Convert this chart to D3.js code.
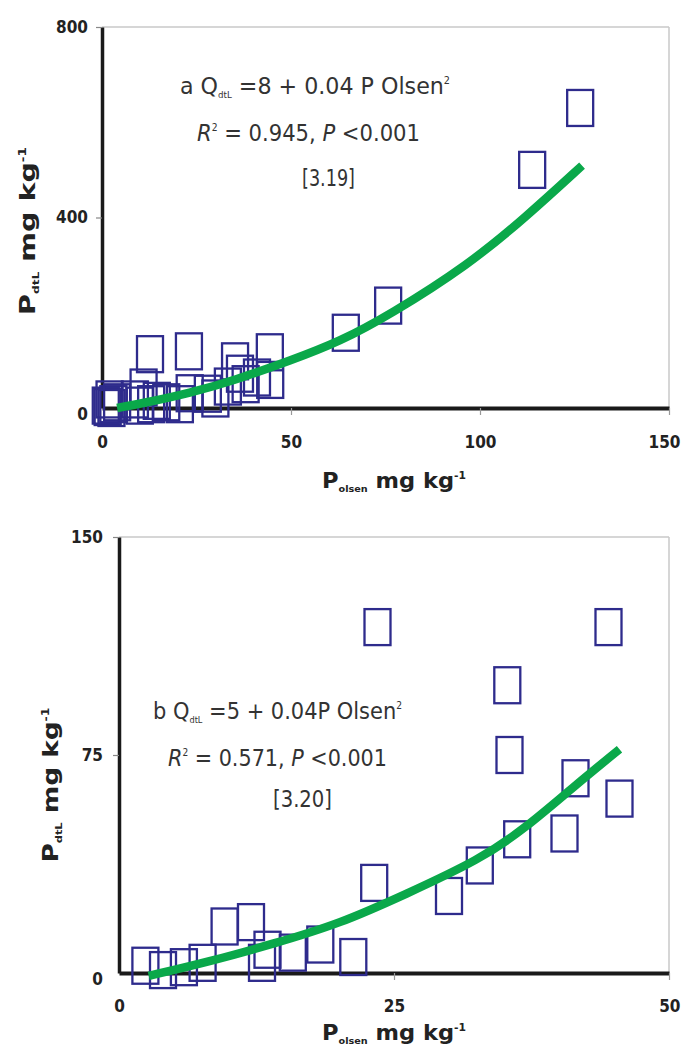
<!DOCTYPE html>
<html><head><meta charset="utf-8">
<script src="https://cdn.jsdelivr.net/npm/d3@7"></script>
<style>
html,body{margin:0;padding:0;background:#fff;}
svg{display:block;}
.tick text{font-family:"DejaVu Sans Condensed","DejaVu Sans",sans-serif;font-weight:bold;font-size:17px;fill:#222;}
.ann{font-family:"DejaVu Sans Condensed","DejaVu Sans",sans-serif;font-size:23px;fill:#333;}
.ttl{font-family:"DejaVu Sans Condensed","DejaVu Sans",sans-serif;font-weight:bold;font-size:21px;fill:#222;}
</style></head>
<body>
<svg id="chart" width="682" height="1061"></svg>
<script>
// ---- Panel a data ----
const aOlsenP = [126.5,113.8,75.7,64.5,12.7,23,35.2,44.4,44.5,36.5,41,33.3,23.2,28,11,8.7,14.5,20.6,1.5,3,2,10,13,17,30,38,1,2.5,4];
const aDtlP   = [630,500,215,158,113,119,98,117,59,72,64,45,31,30,43,18,15,8,2,8,18,5,8,12,20,50,5,0,12];
const aCurveX = [4,12,23,35,50,63,76,97,112,127];
const aCurveY = [0,12,31,58,100,140,195,301,400,509];
const aXTicks = [0,50,100,150];
const aYTicks = [0,400,800];
// ---- Panel b data ----
const bOlsenP = [23.5,44.5,35.3,35.5,41.5,45.5,40.5,36.2,32.8,30,23.2,21.3,9.6,12,13.5,13,7.6,2.4,4,5.9,15.8,18.3];
const bDtlP   = [119,119,99,75,67,60,48,46,37,26.5,31,5.5,16,17.5,8,3.5,3.5,2.5,1,2,7,9.8];
const bCurveX = [2.7,8.3,14,20.1,26,32.8,37,41.3,45.5];
const bCurveY = [-1,4,10,17,27,39,50,64,77];
const bXTicks = [0,25,50];
const bYTicks = [0,75,150];

const svg = d3.select("#chart");

function panel(cfg){
  const x = d3.scaleLinear().domain(cfg.xDom).range([cfg.x0,cfg.x1]);
  const y = d3.scaleLinear().domain(cfg.yDom).range([cfg.y0,cfg.y1]);
  const g = svg.append("g");
  // top & right frame
  g.append("line").attr("x1",cfg.x0).attr("x2",cfg.x1).attr("y1",cfg.y1).attr("y2",cfg.y1).attr("stroke","#c8c8c8").attr("stroke-width",1.5);
  g.append("line").attr("x1",cfg.x1).attr("x2",cfg.x1).attr("y1",cfg.y1).attr("y2",cfg.y0).attr("stroke","#c8c8c8").attr("stroke-width",1.5);
  // x axis
  const xa = g.append("g").attr("transform",`translate(0,${cfg.y0})`)
    .call(d3.axisBottom(x).tickValues(cfg.xTicks).tickSize(7).tickSizeOuter(0).tickPadding(cfg.xPad));
  xa.select(".domain").attr("stroke","#1a1a1a").attr("stroke-width",4);
  xa.selectAll(".tick line").attr("stroke","#999").attr("stroke-width",1.2);
  xa.selectAll(".tick").filter(d=>d===0).select("line").remove();
  const last = cfg.xTicks[cfg.xTicks.length-1];
  xa.selectAll(".tick").filter(d=>d===last).select("text")
    .attr("text-anchor","end").attr("x", 680 - cfg.x1);
  // y axis
  const ya = g.append("g").attr("transform",`translate(${cfg.x0},0)`)
    .call(d3.axisLeft(y).tickValues(cfg.yTicks).tickSize(6).tickSizeOuter(0).tickPadding(cfg.yPad));
  ya.select(".domain").attr("stroke","#1a1a1a").attr("stroke-width",3.5);
  ya.selectAll(".tick line").attr("stroke","#888").attr("stroke-width",1.2);
  ya.selectAll(".tick").filter(d=>d===0).select("line").remove();
  ya.selectAll(".tick").filter(d=>d===0).select("text").attr("dy","0.7em");
  // points
  const pts = cfg.px.map((v,i)=>[v,cfg.py[i]]);
  g.append("g").selectAll("rect").data(pts).join("rect")
    .attr("x",d=>x(d[0])-13).attr("y",d=>y(d[1])-18)
    .attr("width",26).attr("height",36)
    .attr("fill","none").attr("stroke","#2e2b8c").attr("stroke-width",2.3);
  // fitted curve
  const cpts = cfg.cx.map((v,i)=>[v,cfg.cy[i]]);
  g.append("path").datum(cpts)
    .attr("d",d3.line().x(d=>x(d[0])).y(d=>y(d[1])).curve(d3.curveBasis))
    .attr("fill","none").attr("stroke","#0aa84a").attr("stroke-width",8.5);
  return g;
}

function richText(g, x, y, parts, len, cls){
  const t = g.append("text").attr("class",cls).attr("x",x).attr("y",y);
  parts.forEach(p=>{
    const s = t.append("tspan").text(p.t);
    if(p.i) s.attr("font-style","italic");
    if(p.sub) s.attr("font-size","9px").attr("dy",p.dy);
    if(p.sup) s.attr("font-size","10px").attr("dy",p.dy);
    if(p.back) s.attr("dy",p.dy);
  });
  if(len) t.attr("textLength",len).attr("lengthAdjust","spacingAndGlyphs");
  return t;
}

const gA = panel({xDom:[0,150],yDom:[0,800],x0:102,x1:669,y0:408,y1:27,
  xTicks:aXTicks,yTicks:aYTicks,xPad:21,yPad:8,px:aOlsenP,py:aDtlP,cx:aCurveX,cy:aCurveY});
const gB = panel({xDom:[0,50],yDom:[0,150],x0:119,x1:669,y0:973,y1:537,
  xTicks:bXTicks,yTicks:bYTicks,xPad:20,yPad:10,px:bOlsenP,py:bDtlP,cx:bCurveX,cy:bCurveY});

// annotations panel a
richText(gA,180,94,[{t:"a Q"},{t:"dtL",sub:1,dy:4},{t:" =8 + 0.04 P Olsen",back:1,dy:-4},{t:"2",sup:1,dy:-10},{t:"",back:1,dy:10}],270,"ann");
richText(gA,197,141,[{t:"R",i:1},{t:"2",sup:1,dy:-10},{t:" = 0.945, ",back:1,dy:10},{t:"P",i:1},{t:" <0.001"}],223,"ann");
richText(gA,302,186,[{t:"[3.19]"}],53,"ann");
// annotations panel b
richText(gB,153,719,[{t:"b Q"},{t:"dtL",sub:1,dy:4},{t:" =5 + 0.04P Olsen",back:1,dy:-4},{t:"2",sup:1,dy:-10},{t:"",back:1,dy:10}],249,"ann");
richText(gB,168,766,[{t:"R",i:1},{t:"2",sup:1,dy:-10},{t:" = 0.571, ",back:1,dy:10},{t:"P",i:1},{t:" <0.001"}],219,"ann");
richText(gB,273,807,[{t:"[3.20]"}],59,"ann");

// axis titles
function xTitle(g,x,y){
  richText(g,x,y,[{t:"P"},{t:"olsen",sub:1,dy:4},{t:" mg kg",back:1,dy:-4},{t:"-1",sup:1,dy:-9}],144,"ttl");
}
function yTitle(g,cx,cy,len){
  const gg = g.append("g").attr("transform",`translate(${cx},${cy}) rotate(-90)`);
  richText(gg,-len/2,0,[{t:"P"},{t:"dtL",sub:1,dy:4},{t:" mg kg",back:1,dy:-4},{t:"-1",sup:1,dy:-9}],len,"ttl");
}
xTitle(gA,322,488);
xTitle(gB,322,1040);
yTitle(gA,35,231,168);
yTitle(gB,58,785,155);
</script>
</body></html>
